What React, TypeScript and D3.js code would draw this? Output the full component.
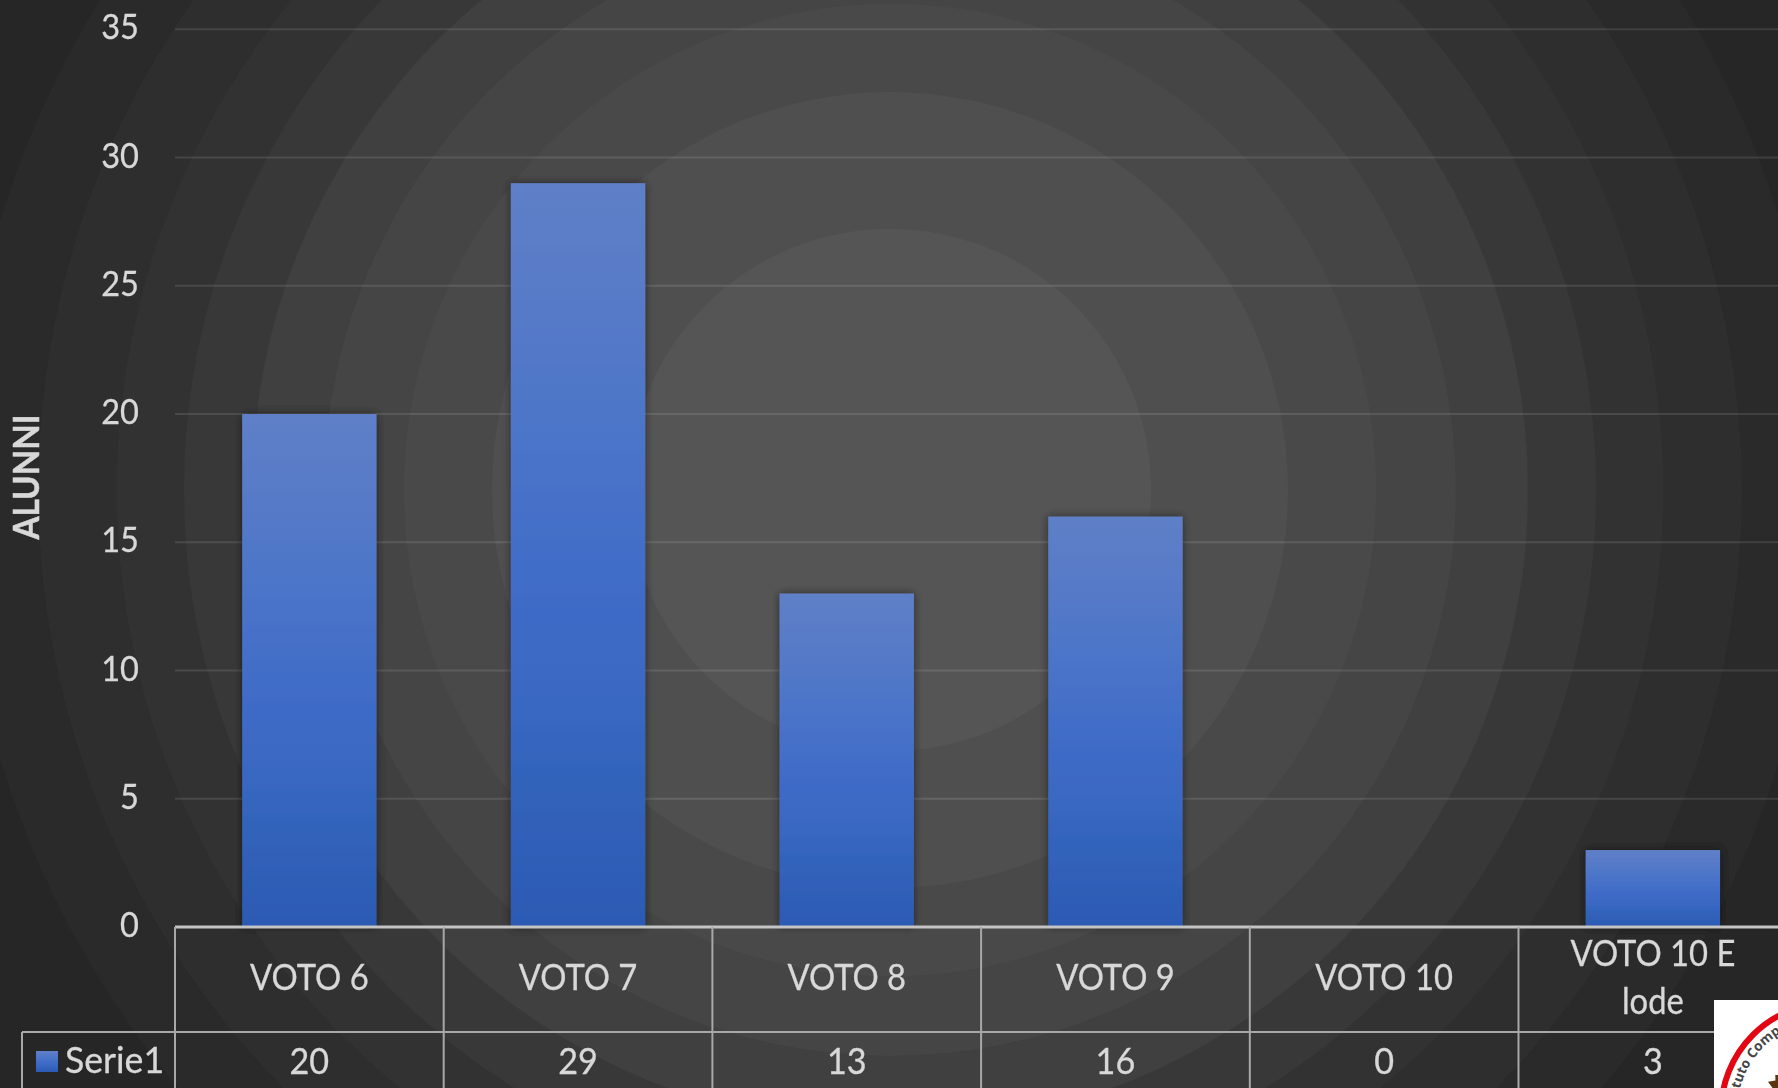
import React from "react";
import * as d3 from "d3";

const W = 1778, H = 1088;
const categories = ["VOTO 6", "VOTO 7", "VOTO 8", "VOTO 9", "VOTO 10", "VOTO 10 E|lode"];
const values = [20, 29, 13, 16, 0, 3];
const yTicks = [0, 5, 10, 15, 20, 25, 30, 35];
const seriesName = "Serie1";
const axisTitle = "ALUNNI";

// stepped radial backdrop
const bandRadii = [930, 852, 773, 706, 638, 566, 486, 398, 261];
const bandGreys = ["#292929", "#2e2e2e", "#333333", "#393939", "#3f3f3f", "#454545", "#4a4a4a", "#505050", "#555555"];
const outerGrey = "#262626";

// bar fill
const barStops = [0, 0.13, 0.28, 0.42, 0.55, 0.68, 0.8, 0.91, 1];
const barColors = ["#5e80c8", "#597bc7", "#4f77c8", "#4771c9", "#3f6cc7", "#3a68c3", "#3264bb", "#2f5eb7", "#2c5ab4"];

// logo seal outline
const sealRadii = [68, 62, 67, 61, 69, 63, 66, 60, 68, 62];

const x = d3.scaleBand<string>().domain(categories).range([175, 175 + 268.7 * 6]);
const y = d3.scaleLinear().domain([0, 35]).range([927, 29.3]);
const barW = x.bandwidth() * 0.5;
const ROW1 = 1032;
const TXT = "#d8d8d8";
const LOGO = { cx: 1830, cy: 1112, r: 112 };

const ctx = document.createElement("canvas").getContext("2d")!;
function lengthOf(s: string, size: number, weight: number, sx: number) {
  ctx.font = `${weight} ${size}px Lato`;
  return ctx.measureText(s).width * sx;
}

function Label({ px, py, children, size = 36, sx = 0.91, anchor = "middle", weight = 400 }: any) {
  const s = String(children);
  return (
    <text x={px} y={py} textLength={lengthOf(s, size, weight, sx)} lengthAdjust="spacingAndGlyphs" fontFamily="Lato" fontSize={size} fontWeight={weight} fill={TXT} stroke={TXT} strokeWidth={0.3} textAnchor={anchor}>
      {s}
    </text>
  );
}

export default function App() {
  const seal = d3.lineRadial<number>()
    .angle((_, i) => (i / 90) * 2 * Math.PI)
    .radius((_, i) => sealRadii[i % sealRadii.length])
    .curve(d3.curveLinearClosed)(d3.range(90));
  return (
    <svg width={W} height={H} viewBox={`0 0 ${W} ${H}`} style={{ position: "absolute", left: 0, top: 0, display: "block" }}>
      <defs>
        <filter id="soft" x="0" y="0" width={W} height={H} filterUnits="userSpaceOnUse">
          <feGaussianBlur stdDeviation="0.7" />
        </filter>
        <filter id="shadow" x="-20%" y="-10%" width="140%" height="120%">
          <feDropShadow dx="0" dy="0" stdDeviation="5" floodColor="#000" floodOpacity="0.5" />
        </filter>
        <linearGradient id="bar" x1="0" y1="0" x2="0" y2="1">
          {barStops.map((s, i) => <stop key={i} offset={s} stopColor={barColors[i]} />)}
        </linearGradient>
        <path id="logoArc" d={`M ${LOGO.cx - 93} ${LOGO.cy} A 93 93 0 0 1 ${LOGO.cx} ${LOGO.cy - 93}`} />
      </defs>

      <g filter="url(#soft)">
        <rect width={W} height={H} fill={outerGrey} />
        {bandRadii.map((r, i) => (
          <circle key={r} cx={890} cy={490} r={r} fill={bandGreys[i]} />
        ))}

        {yTicks.slice(1).map((t) => (
          <line key={t} x1={175} x2={W} y1={y(t)} y2={y(t)} stroke="#fff" strokeOpacity={0.11} strokeWidth={2} />
        ))}

        {categories.map((c, i) => values[i] > 0 && (
          <rect key={c} x={x(c)! + (x.bandwidth() - barW) / 2} width={barW} y={y(values[i])} height={y(0) - y(values[i])} fill="url(#bar)" filter="url(#shadow)" />
        ))}

        {yTicks.map((t) => (
          <Label key={t} px={139} py={y(t) + 10} anchor="end" size={35} sx={0.93}>{t}</Label>
        ))}

        <text x={39} y={477} transform="rotate(-90 39 477)" textLength={125} lengthAdjust="spacingAndGlyphs" fontFamily="Lato" fontSize={36} fontWeight={700} fill={TXT} stroke={TXT} strokeWidth={0.5} textAnchor="middle">{axisTitle}</text>

        {/* data table */}
        <line x1={175} x2={W} y1={y(0)} y2={y(0)} stroke="#c4c4c4" strokeWidth={3} />
        <line x1={22} x2={W} y1={ROW1} y2={ROW1} stroke="#a8a8a8" strokeWidth={2} />
        <line x1={22} x2={22} y1={ROW1} y2={H} stroke="#a8a8a8" strokeWidth={2} />
        {categories.map((c) => (
          <line key={c} x1={x(c)!} x2={x(c)!} y1={y(0)} y2={H} stroke="#a8a8a8" strokeWidth={2} />
        ))}
        {categories.map((c, i) => {
          const cx = x(c)! + x.bandwidth() / 2;
          const parts = c.split("|");
          return (
            <g key={c}>
              {parts.length === 1
                ? <Label px={cx} py={990}>{parts[0]}</Label>
                : parts.map((p, k) => <Label key={p} px={cx} py={966 + k * 48}>{p}</Label>)}
              <Label px={cx} py={1074} sx={0.95}>{values[i]}</Label>
            </g>
          );
        })}
        <rect x={36} y={1051} width={22} height={21} fill="url(#bar)" />
        <Label px={65} py={1073} anchor="start" sx={0.99}>{seriesName}</Label>
      </g>

      {/* logo in the corner */}
      <rect x={1714} y={1000} width={64} height={88} fill="#fff" />
      <circle cx={LOGO.cx} cy={LOGO.cy} r={LOGO.r - 3} fill="none" stroke="#e30613" strokeWidth={6} />
      <path d={seal ?? ""} transform={`translate(${LOGO.cx},${LOGO.cy})`} fill="#5a3510" />
      <text fontFamily="Open Sans" fontSize={13.5} fontWeight={700} fill="#444">
        <textPath href="#logoArc" startOffset={2}>Istituto Comp</textPath>
      </text>
    </svg>
  );
}
